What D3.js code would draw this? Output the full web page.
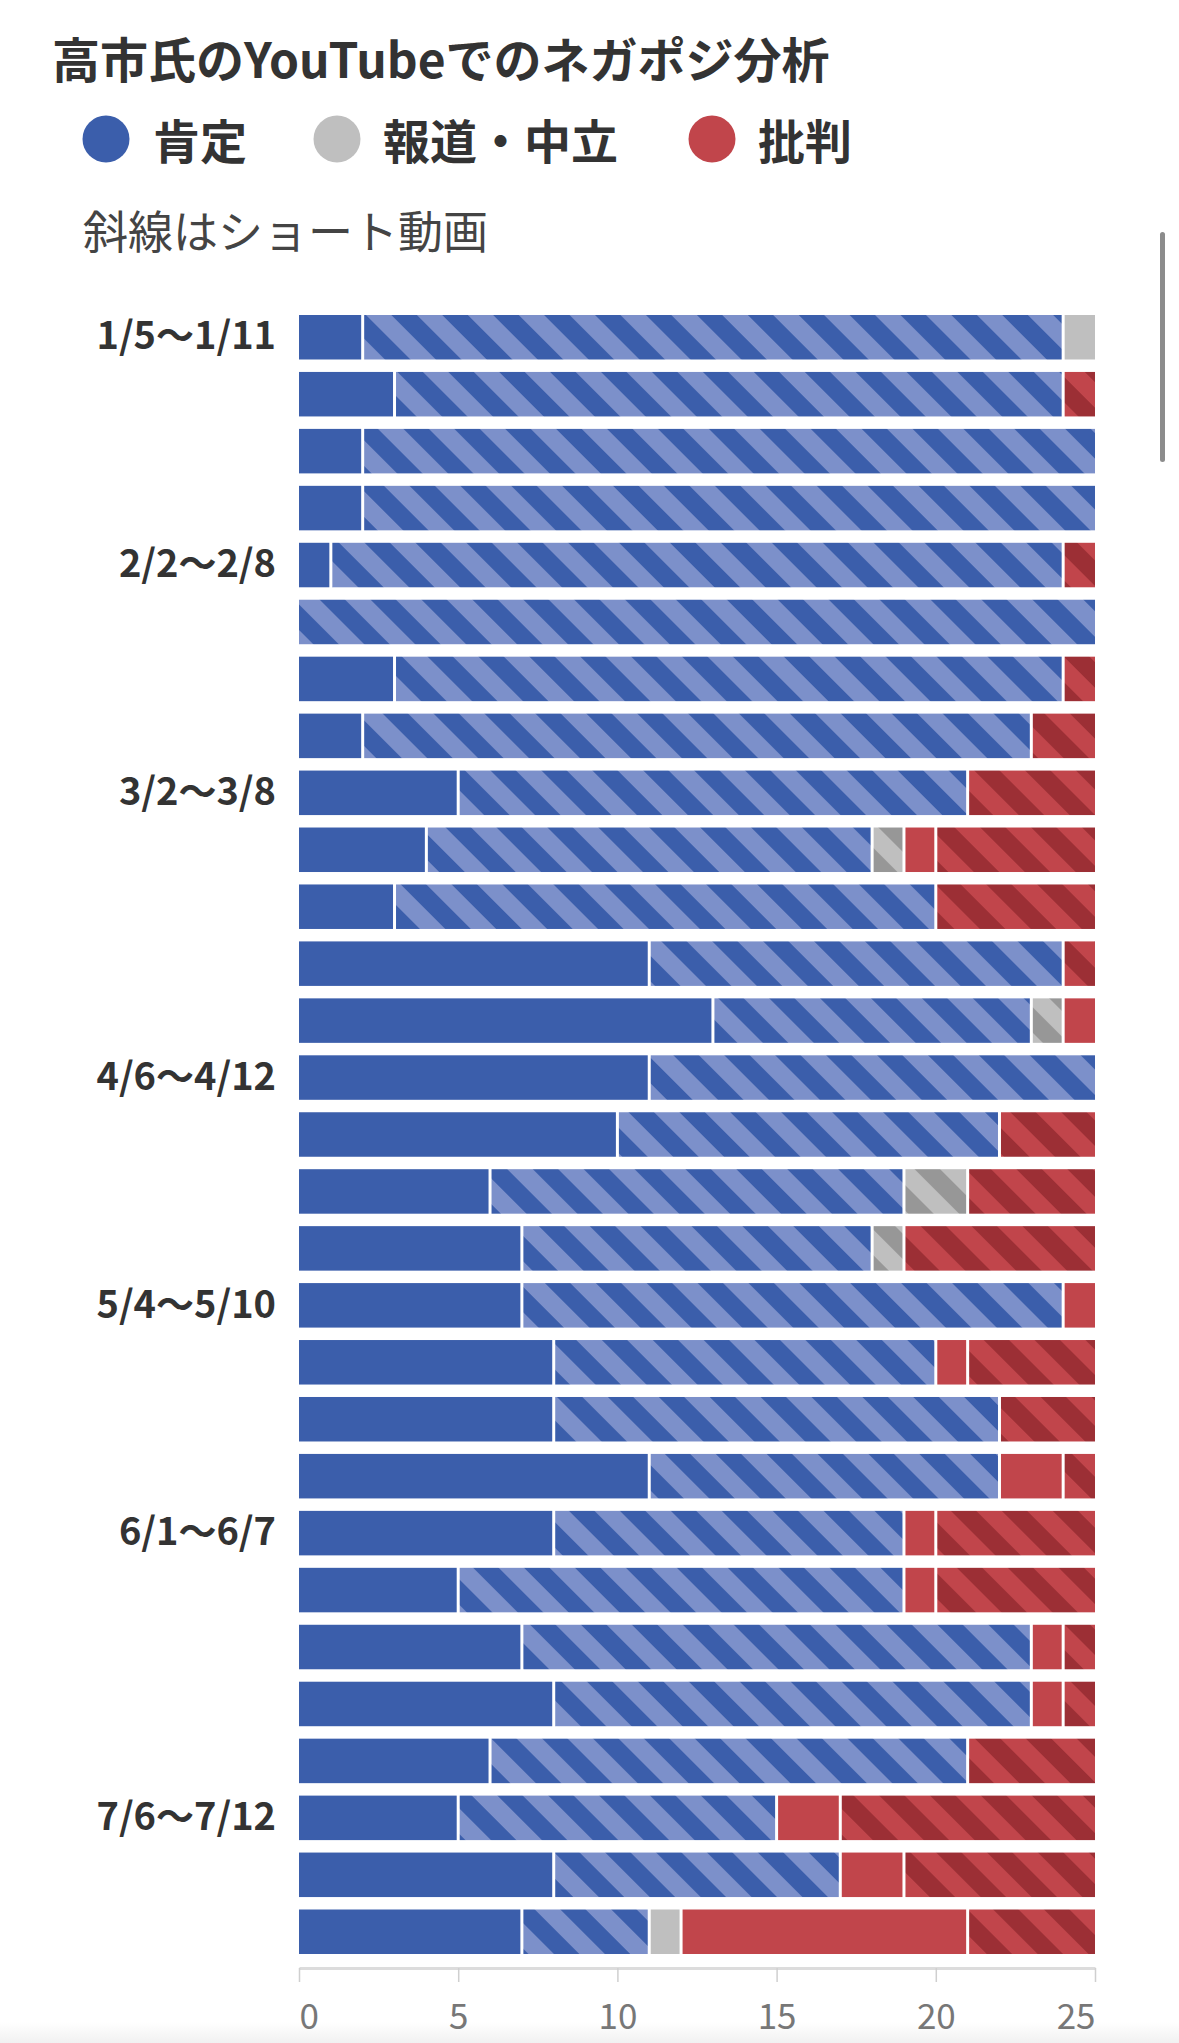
<!DOCTYPE html>
<html><head><meta charset="utf-8">
<script src="https://cdn.jsdelivr.net/npm/d3@7"></script>
<style>
body{margin:0;background:#fff;}
svg{display:block;}
</style>
</head><body>
<svg id="c" width="1179" height="2043"></svg>
<script>
const weeks = ["1/5〜1/11","1/12〜1/18","1/19〜1/25","1/26〜2/1","2/2〜2/8","2/9〜2/15","2/16〜2/22","2/23〜3/1",
  "3/2〜3/8","3/9〜3/15","3/16〜3/22","3/23〜3/29","3/30〜4/5","4/6〜4/12","4/13〜4/19","4/20〜4/26","4/27〜5/3",
  "5/4〜5/10","5/11〜5/17","5/18〜5/24","5/25〜5/31","6/1〜6/7","6/8〜6/14","6/15〜6/21","6/22〜6/28","6/29〜7/5",
  "7/6〜7/12","7/13〜7/19","7/20〜7/26"];
const tickWeeks = ["1/5〜1/11","2/2〜2/8","3/2〜3/8","4/6〜4/12","5/4〜5/10","6/1〜6/7","7/6〜7/12"];
// 肯定 (通常動画 / ショート動画)
const posLong  = [2,3,2,2,1,0,3,2,5,4,3,11,13,11,10,6,7,7,8,8,11,8,5,7,8,6,5,8,7];
const posShort = [22,21,23,23,23,25,21,21,16,14,17,13,10,14,12,13,11,17,12,14,11,11,14,16,15,15,10,9,4];
// 報道・中立
const neuLong  = [1,0,0,0,0,0,0,0,0,0,0,0,0,0,0,0,0,0,0,0,0,0,0,0,0,0,0,0,1];
const neuShort = [0,0,0,0,0,0,0,0,0,1,0,0,1,0,0,2,1,0,0,0,0,0,0,0,0,0,0,0,0];
// 批判
const negLong  = [0,0,0,0,0,0,0,0,0,1,0,0,1,0,0,0,0,1,1,0,2,1,1,1,1,0,2,2,9];
const negShort = [0,1,0,0,1,0,1,2,4,5,5,1,0,0,3,4,6,0,4,3,1,5,5,1,1,4,8,6,4];
const xTicks = [0,5,10,15,20,25];
const legendLabels = ["肯定","報道・中立","批判"];

const keys = ["posLong","posShort","neuLong","neuShort","negLong","negShort"];
const rows = weeks.map((w,i)=>({week:w,posLong:posLong[i],posShort:posShort[i],neuLong:neuLong[i],
  neuShort:neuShort[i],negLong:negLong[i],negShort:negShort[i]}));

const BLUE="#3b5eab", BLUE_L="#7c90ca", GRAY="#bfbfbf", GRAY_D="#979797", RED="#c1454b", RED_D="#9c2f35";
const FONT = "'Noto Sans CJK JP','Noto Sans',sans-serif";

const svg = d3.select("#c");
const defs = svg.append("defs");
function hatch(id, bg, fg){
  const p = defs.append("pattern").attr("id",id).attr("patternUnits","userSpaceOnUse")
    .attr("width",36).attr("height",36).attr("patternTransform","rotate(-45)");
  p.append("rect").attr("width",36).attr("height",36).attr("fill",bg);
  p.append("rect").attr("width",18).attr("height",36).attr("fill",fg);
}
hatch("hBlue", BLUE, BLUE_L);
hatch("hGray", GRAY, GRAY_D);
hatch("hRed", RED, RED_D);
const fills = {posLong:BLUE,posShort:"url(#hBlue)",neuLong:GRAY,neuShort:"url(#hGray)",negLong:RED,negShort:"url(#hRed)"};
const grad = defs.append("linearGradient").attr("id","bottomFade").attr("x1",0).attr("y1",0).attr("x2",0).attr("y2",1);
grad.append("stop").attr("offset","0%").attr("stop-color","#ffffff");
grad.append("stop").attr("offset","100%").attr("stop-color","#f1f1f1");
svg.append("rect").attr("x",0).attr("y",2022).attr("width",1179).attr("height",21).attr("fill","url(#bottomFade)");

// title
svg.append("text").attr("x",52).attr("y",57).attr("dominant-baseline","central")
  .attr("font-family",FONT).attr("font-weight",700).attr("font-size",48).attr("fill","#333")
  .text("高市氏のYouTubeでのネガポジ分析");

// legend
const legCx=[106,337,712], legTx=[153,383,758], legCol=[BLUE,GRAY,RED];
legendLabels.forEach((l,i)=>{
  svg.append("circle").attr("cx",legCx[i]).attr("cy",139).attr("r",23.5).attr("fill",legCol[i]);
  svg.append("text").attr("x",legTx[i]).attr("y",138).attr("dominant-baseline","central")
    .attr("font-family",FONT).attr("font-weight",700).attr("font-size",47).attr("fill","#333").text(l);
});
svg.append("text").attr("x",83).attr("y",229).attr("dominant-baseline","central")
  .attr("font-family",FONT).attr("font-weight",400).attr("font-size",45).attr("fill","#444")
  .text("斜線はショート動画");

// scales
const x = d3.scaleLinear().domain([0,25]).range([299,1095]);
const y = d3.scaleBand().domain(weeks).range([315,1954]).paddingInner(0.2186).paddingOuter(0);

const series = d3.stack().keys(keys)(rows);
const g = svg.append("g");
series.forEach(s=>{
  g.selectAll(null).data(s.filter(d=>d[1]-d[0]>0)).join("rect")
    .attr("x",d=>x(d[0])+(d[0]>0?1.5:0))
    .attr("width",d=>x(d[1])-x(d[0])-(d[0]>0?1.5:0)-(d[1]<25?1.5:0))
    .attr("y",d=>y(d.data.week)).attr("height",y.bandwidth())
    .attr("fill",fills[s.key]);
});

// x axis
const xa = svg.append("g").attr("transform","translate(0,1968)")
  .call(d3.axisBottom(x).tickValues(xTicks).tickSize(14).tickPadding(22).tickSizeOuter(0));
xa.select(".domain").attr("stroke","#dcdcdc").attr("stroke-width",3);
xa.selectAll(".tick line").attr("stroke","#cfcfcf").attr("stroke-width",1.5);
xa.selectAll(".tick text").attr("font-family",FONT).attr("font-size",35).attr("fill","#777")
  .attr("text-anchor",d=>d===0?"start":(d===25?"end":"middle"));

// y axis
const ya = svg.append("g").attr("transform","translate(299,0)")
  .call(d3.axisLeft(y).tickValues(tickWeeks).tickSize(0).tickPadding(23));
ya.select(".domain").remove();
ya.selectAll(".tick text").attr("font-family",FONT).attr("font-weight",700).attr("font-size",38).attr("fill","#333");

// scrollbar-like indicator seen in the reference
svg.append("rect").attr("x",1160).attr("y",232).attr("width",5).attr("height",230).attr("rx",2.5).attr("fill","#8c8c8c");
</script>
</body></html>
